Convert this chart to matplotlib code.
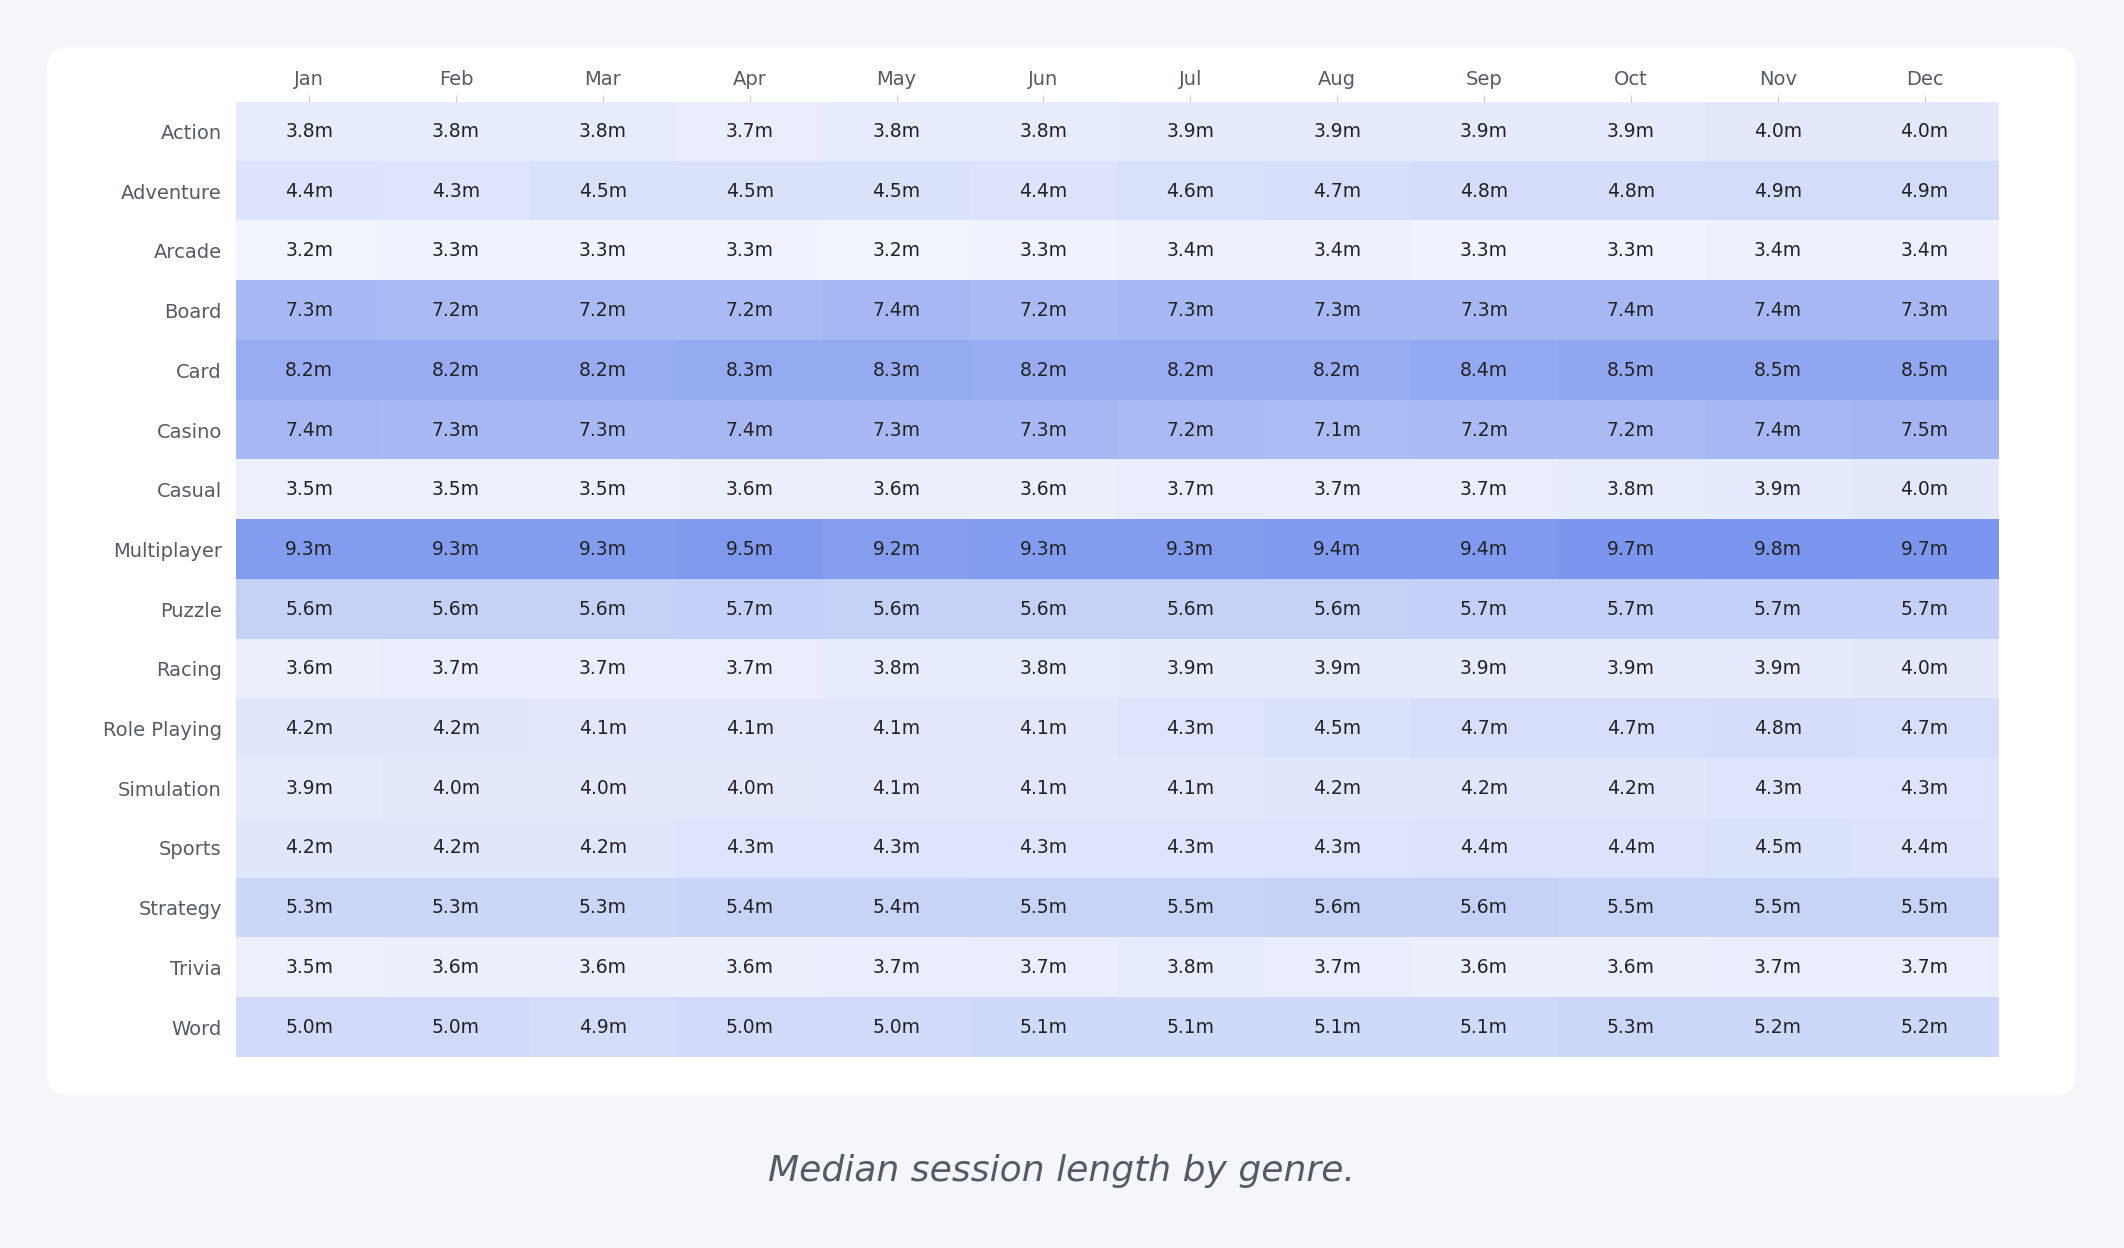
import numpy as np
import matplotlib.pyplot as plt
from matplotlib.colors import LinearSegmentedColormap
from matplotlib.patches import FancyBboxPatch

months = ["Jan", "Feb", "Mar", "Apr", "May", "Jun", "Jul", "Aug", "Sep", "Oct", "Nov", "Dec"]
genres = ["Action", "Adventure", "Arcade", "Board", "Card", "Casino", "Casual", "Multiplayer",
          "Puzzle", "Racing", "Role Playing", "Simulation", "Sports", "Strategy", "Trivia", "Word"]

action      = [3.8, 3.8, 3.8, 3.7, 3.8, 3.8, 3.9, 3.9, 3.9, 3.9, 4.0, 4.0]
adventure   = [4.4, 4.3, 4.5, 4.5, 4.5, 4.4, 4.6, 4.7, 4.8, 4.8, 4.9, 4.9]
arcade      = [3.2, 3.3, 3.3, 3.3, 3.2, 3.3, 3.4, 3.4, 3.3, 3.3, 3.4, 3.4]
board       = [7.3, 7.2, 7.2, 7.2, 7.4, 7.2, 7.3, 7.3, 7.3, 7.4, 7.4, 7.3]
card        = [8.2, 8.2, 8.2, 8.3, 8.3, 8.2, 8.2, 8.2, 8.4, 8.5, 8.5, 8.5]
casino      = [7.4, 7.3, 7.3, 7.4, 7.3, 7.3, 7.2, 7.1, 7.2, 7.2, 7.4, 7.5]
casual      = [3.5, 3.5, 3.5, 3.6, 3.6, 3.6, 3.7, 3.7, 3.7, 3.8, 3.9, 4.0]
multiplayer = [9.3, 9.3, 9.3, 9.5, 9.2, 9.3, 9.3, 9.4, 9.4, 9.7, 9.8, 9.7]
puzzle      = [5.6, 5.6, 5.6, 5.7, 5.6, 5.6, 5.6, 5.6, 5.7, 5.7, 5.7, 5.7]
racing      = [3.6, 3.7, 3.7, 3.7, 3.8, 3.8, 3.9, 3.9, 3.9, 3.9, 3.9, 4.0]
role_play   = [4.2, 4.2, 4.1, 4.1, 4.1, 4.1, 4.3, 4.5, 4.7, 4.7, 4.8, 4.7]
simulation  = [3.9, 4.0, 4.0, 4.0, 4.1, 4.1, 4.1, 4.2, 4.2, 4.2, 4.3, 4.3]
sports      = [4.2, 4.2, 4.2, 4.3, 4.3, 4.3, 4.3, 4.3, 4.4, 4.4, 4.5, 4.4]
strategy    = [5.3, 5.3, 5.3, 5.4, 5.4, 5.5, 5.5, 5.6, 5.6, 5.5, 5.5, 5.5]
trivia      = [3.5, 3.6, 3.6, 3.6, 3.7, 3.7, 3.8, 3.7, 3.6, 3.6, 3.7, 3.7]
word        = [5.0, 5.0, 4.9, 5.0, 5.0, 5.1, 5.1, 5.1, 5.1, 5.3, 5.2, 5.2]

data = np.array([action, adventure, arcade, board, card, casino, casual, multiplayer,
                 puzzle, racing, role_play, simulation, sports, strategy, trivia, word])

W, H = 1568, 921
fig = plt.figure(figsize=(21.24, 12.48), dpi=100)
fig.patch.set_facecolor("#f5f6f9")

# white card behind the heatmap
card_ax = fig.add_axes([0, 0, 1, 1])
card_ax.set_xlim(0, W)
card_ax.set_ylim(H, 0)
card_ax.axis("off")
card_ax.add_patch(FancyBboxPatch((35, 35), 1497, 773, boxstyle="round,pad=0,rounding_size=14",
                                 facecolor="white", edgecolor="none"))

cmap = LinearSegmentedColormap.from_list("blues", ["#f4f6fe", "#7894ee"])
ax = fig.add_axes([174 / W, 1 - 780 / H, (1475 - 174) / W, (780 - 75) / H])
ax.imshow(data, cmap=cmap, vmin=3.1, vmax=9.9, aspect="auto")

for i in range(data.shape[0]):
    for j in range(data.shape[1]):
        ax.text(j, i, f"{data[i, j]:.1f}m", ha="center", va="center", fontsize=13.5, color="#222222")

ax.set_xticks(range(len(months)))
ax.set_xticklabels(months, fontsize=14, color="#555a66")
ax.xaxis.tick_top()
ax.tick_params(axis="x", length=5, color="#cccccc", pad=4)
ax.set_yticks(range(len(genres)))
ax.set_yticklabels(genres, fontsize=14, color="#555a66")
ax.tick_params(axis="y", length=0, pad=10)
for s in ax.spines.values():
    s.set_visible(False)

fig.text(784 / W, 1 - 864 / H, "Median session length by genre.", ha="center", va="center",
         fontsize=26, style="italic", color="#555a66")

fig.savefig("out.png", dpi=100, facecolor=fig.get_facecolor())
